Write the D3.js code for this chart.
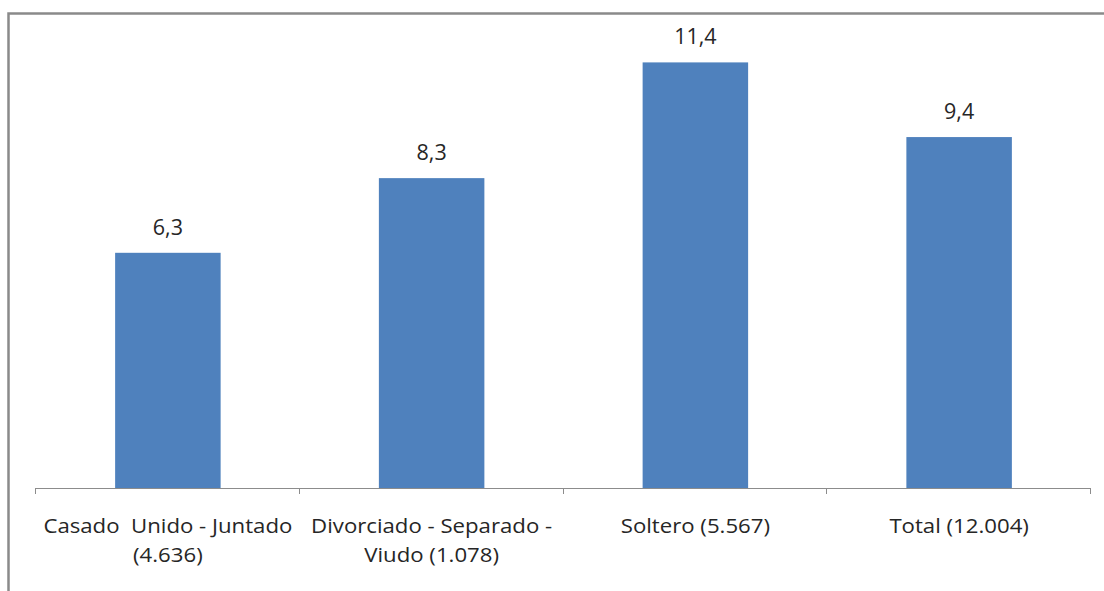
<!DOCTYPE html>
<html>
<head>
<meta charset="utf-8">
<script src="https://cdn.jsdelivr.net/npm/d3@7"></script>
<style>
  html, body { margin: 0; padding: 0; background: #fff; }
  svg { display: block; }
  text { font-family: "Open Sans", Lato, sans-serif; fill: #262626; white-space: pre; }
</style>
</head>
<body>
<svg id="chart" width="1104" height="591"></svg>
<script>
// Category labels (each entry is a list of lines) and their percentages
const categoryLines = [
  ["Casado  Unido - Juntado", "(4.636)"],
  ["Divorciado - Separado -", "Viudo (1.078)"],
  ["Soltero (5.567)"],
  ["Total (12.004)"]
];
const values = [6.3, 8.3, 11.4, 9.4];
const valueLabels = ["6,3", "8,3", "11,4", "9,4"];

const svg = d3.select("#chart");
const W = 1104, H = 591;

// Outer frame: only the top and left edges fall inside the view
svg.append("rect")
  .attr("x", 8.5).attr("y", 13.5)
  .attr("width", W + 20).attr("height", H + 20)
  .attr("fill", "#fff")
  .attr("stroke", "#8a8a8a")
  .attr("stroke-width", 2.5);

const margin = { left: 35, right: 14, top: 40, bottom: 103 };
const x = d3.scaleBand()
  .domain(d3.range(values.length))
  .range([margin.left, W - margin.right])
  .paddingInner(0.6)
  .paddingOuter(0.3);

const baseY = H - margin.bottom;
const y = d3.scaleLinear().domain([0, 12]).range([baseY, margin.top]);
const cx = i => x(i) + x.bandwidth() / 2 + 1;

// Bars
svg.append("g").selectAll("rect")
  .data(values)
  .join("rect")
  .attr("x", (d, i) => cx(i) - x.bandwidth() / 2)
  .attr("y", d => y(d))
  .attr("width", x.bandwidth())
  .attr("height", d => y(0) - y(d))
  .attr("fill", "#4f81bd");

// Value labels above bars
svg.append("g").selectAll("text")
  .data(values)
  .join("text")
  .attr("x", (d, i) => cx(i))
  .attr("y", d => y(d) - 18)
  .attr("text-anchor", "middle")
  .attr("font-size", 21.5)
  .text((d, i) => valueLabels[i]);

// Category axis: baseline with tick marks at band boundaries
const x0 = margin.left, x1 = W - margin.right;
const axis = svg.append("g").attr("stroke", "#8c8c8c").attr("stroke-width", 1);
axis.append("line")
  .attr("x1", x0).attr("x2", x1)
  .attr("y1", baseY + 0.5).attr("y2", baseY + 0.5);
const bandEdge = d3.scaleLinear().domain([0, values.length]).range([x0, x1]);
axis.selectAll("line.tick")
  .data(d3.range(values.length + 1))
  .join("line")
  .attr("class", "tick")
  .attr("x1", d => Math.round(bandEdge(d)) + 0.5)
  .attr("x2", d => Math.round(bandEdge(d)) + 0.5)
  .attr("y1", baseY).attr("y2", baseY + 6);

// Category labels, slightly widened glyphs
const labels = svg.append("g").selectAll("text")
  .data(categoryLines)
  .join("text")
  .attr("text-anchor", "middle")
  .attr("font-size", 20)
  .attr("transform", (d, i) => `translate(${cx(i)},${baseY + 45}) scale(1.11,1)`);
labels.selectAll("tspan")
  .data(d => d)
  .join("tspan")
  .attr("x", 0)
  .attr("dy", (d, j) => j === 0 ? 0 : 29)
  .text(d => d);
</script>
</body>
</html>
